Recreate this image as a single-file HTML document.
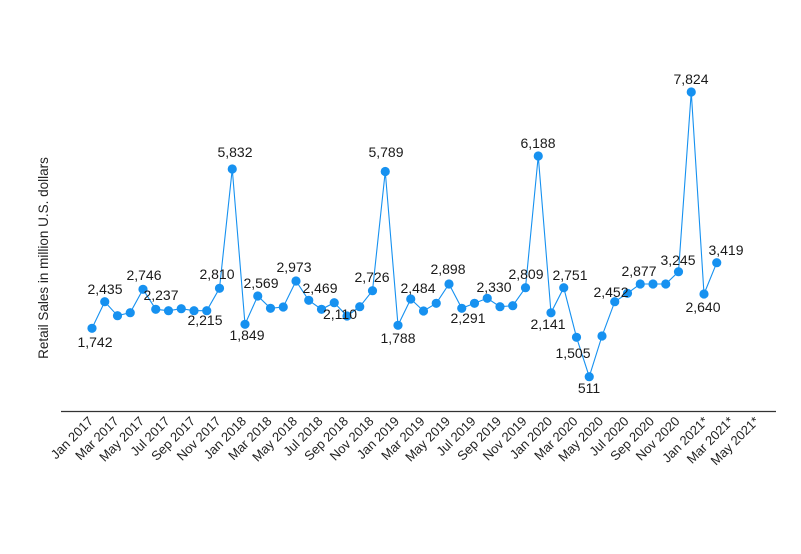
<!DOCTYPE html>
<html><head><meta charset="utf-8"><style>
html,body{margin:0;padding:0;background:#fff;}
svg{display:block;font-family:"Liberation Sans",sans-serif;}
</style></head><body>
<svg width="801" height="554" viewBox="0 0 801 554" xmlns="http://www.w3.org/2000/svg">
<rect width="801" height="554" fill="#fff"/>
<line x1="61" y1="411.5" x2="776" y2="411.5" stroke="#333" stroke-width="1.3"/>
<text transform="translate(48,258) rotate(-90)" text-anchor="middle" font-size="13.5" fill="#222">Retail Sales in million U.S. dollars</text>
<g id="xl" font-size="13" fill="#222" text-anchor="end"></g>
<polyline id="ln" fill="none" stroke="#1691f0" stroke-width="1.1"/>
<g id="pts" fill="#1691f0"></g>
<g id="lb" font-size="14" fill="#1a1a1a" text-anchor="middle"></g>
</svg>
<script>
var ys=[328.3,301.7,315.7,312.7,289.3,309.3,310.7,308.7,310.7,310.7,288.3,169,
324.3,296,308.3,307,281,300.3,309.3,302.7,316,306.7,290.7,171.5,
325.3,299,311,303.3,284,308.3,303.3,298.3,306.7,305.7,287.7,156,
312.8,287.7,337.3,376.7,336,301.7,293.3,284,284,284,271.7,92,294,262.7];
var ns="http://www.w3.org/2000/svg",pts=[];
function X(i){return 92+i*12.75;}
ys.forEach(function(y,i){pts.push(X(i)+","+y);var c=document.createElementNS(ns,"circle");c.setAttribute("cx",X(i));c.setAttribute("cy",y);c.setAttribute("r",4.6);document.getElementById("pts").appendChild(c);});
document.getElementById("ln").setAttribute("points",pts.join(" "));
var m=["Jan","Mar","May","Jul","Sep","Nov"];
for(var k=0;k<27;k++){var i=k*2,yr=2017+Math.floor(i/12),t=m[(i%12)/2]+" "+yr+(yr==2021?"*":"");
var e=document.createElementNS(ns,"text");var x=X(i)+(yr==2021?5:2);e.setAttribute("transform","translate("+x+",422) rotate(-45)");e.textContent=t;document.getElementById("xl").appendChild(e);}
var L=[["1,742",95,347],["2,435",105,294],["2,746",144,280],["2,237",161,300],["2,215",205,325],["2,810",217,279],["5,832",235,157],["1,849",247,340],["2,569",261,288],["2,973",294,272],["2,469",320,293],["2,110",340,319],["2,726",372,282],["5,789",386,157],["1,788",398,343],["2,484",418,293],["2,898",448,274],["2,291",468,323],["2,330",494,292],["2,809",526,279],["6,188",538,148],["2,141",548,329],["2,751",570,280],["1,505",573,358],["511",589,393],["2,452",611,297],["2,877",639,276],["3,245",678,265],["7,824",691,84],["2,640",703,312],["3,419",726,255]];
L.forEach(function(a){var e=document.createElementNS(ns,"text");e.setAttribute("x",a[1]);e.setAttribute("y",a[2]);e.textContent=a[0];document.getElementById("lb").appendChild(e);});
</script>
</body></html>
